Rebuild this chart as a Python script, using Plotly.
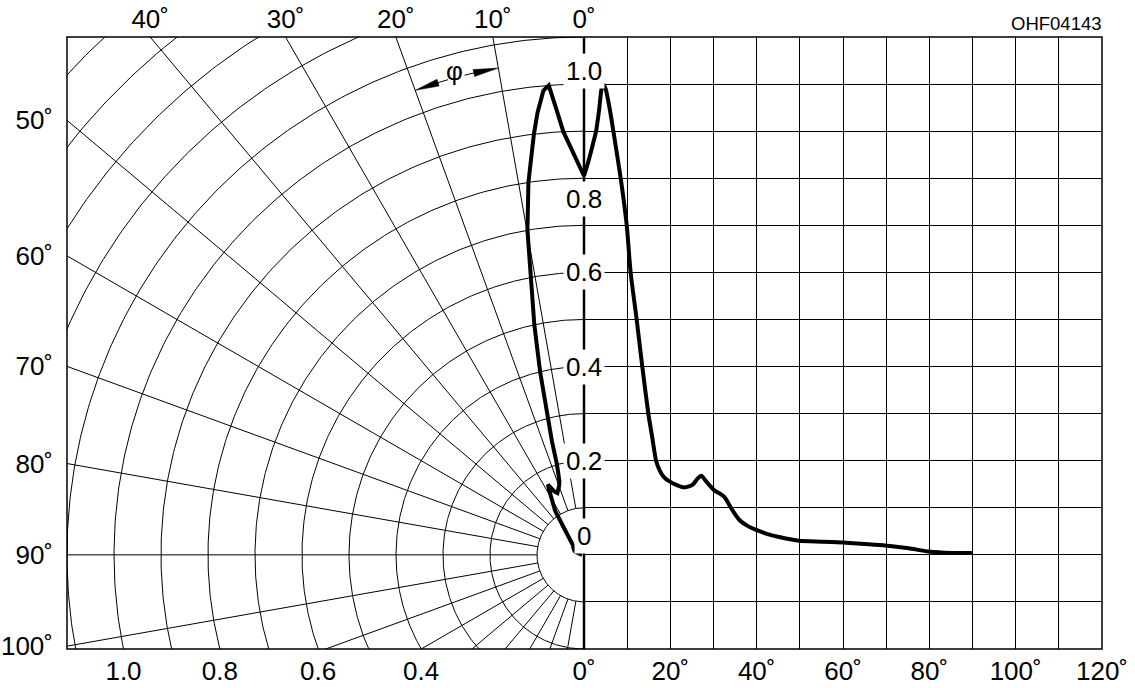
import numpy as np
import plotly.graph_objects as go

# ---- data ----
angle_deg = [0, 1, 2, 2.8, 3.5, 4.3, 5, 6, 6.8, 8.5, 9.9, 10.8, 12.2, 13.5, 14.9, 15.8,
             16.7, 17.5, 18.5, 19.8, 21.5, 23.3, 25.2, 26.3, 27.2, 28.3, 30.2, 31.5,
             32.5, 33.3, 34.1, 36, 38, 39.9, 42.5, 45.2, 49.8, 55, 59.8, 65, 69.8,
             75.2, 79.8, 85.2, 90]
intensity = [0.805, 0.835, 0.87, 0.9, 0.945, 1.0, 0.99, 0.945, 0.9, 0.8, 0.7, 0.6, 0.5,
             0.4, 0.3, 0.25, 0.2, 0.18, 0.165, 0.156, 0.148, 0.143, 0.149, 0.162, 0.168,
             0.156, 0.137, 0.13, 0.123, 0.112, 0.099, 0.074, 0.061, 0.053, 0.044, 0.038,
             0.030, 0.028, 0.026, 0.023, 0.020, 0.014, 0.007, 0.004, 0.004]

circle_levels = [round(0.1 * k, 1) for k in range(1, 16)]
radial_angles = list(range(10, 180, 10))
top_angles = [40, 30, 20, 10, 0]
side_angles = [50, 60, 70, 80, 90, 100]
bottom_levels = [1.0, 0.8, 0.6, 0.4]
axis_label_values = [1.0, 0.8, 0.6, 0.4, 0.2, 0.0]
axis_label_text = ["1.0", "0.8", "0.6", "0.4", "0.2", "0"]
axis_label_shift = [0.028, -0.045, 0, 0, 0, 0.039]
code_label = "OHF04143"
phi_marker = dict(radius=1.05, arrows=[(20.0, 17.2, 16.0), (10.0, 12.9, 14.0)], label_angle=15)

R_EDGE = 1.1
Y_MIN = -0.2
D = 517 / 1035
FONT = "Liberation Sans, Arial, Helvetica, sans-serif"
FS = 26

fig = go.Figure()

# polar circles
cx, cy = [], []
t = np.linspace(0, np.pi, 361)
for r in circle_levels:
    cx += list(-r * np.sin(t)) + [None]
    cy += list(r * np.cos(t)) + [None]
fig.add_trace(go.Scatter(x=cx, y=cy, mode="lines", line=dict(color="black", width=1),
                         hoverinfo="skip", showlegend=False, xaxis="x", yaxis="y"))

# radial lines
rx, ry = [], []
for a in radial_angles:
    ar = np.radians(a)
    rx += [-0.1 * np.sin(ar), -2.5 * np.sin(ar), None]
    ry += [0.1 * np.cos(ar), 2.5 * np.cos(ar), None]
fig.add_trace(go.Scatter(x=rx, y=ry, mode="lines", line=dict(color="black", width=1),
                         hoverinfo="skip", showlegend=False, xaxis="x", yaxis="y"))

# polar curve
phi = np.radians(angle_deg)
I = np.array(intensity)
fig.add_trace(go.Scatter(x=-I * np.sin(phi), y=I * np.cos(phi), mode="lines",
                         line=dict(color="black", width=4),
                         showlegend=False, xaxis="x", yaxis="y"))

# cartesian curve
fig.add_trace(go.Scatter(x=angle_deg, y=intensity, mode="lines",
                         line=dict(color="black", width=4, shape="spline", smoothing=0.6),
                         showlegend=False, xaxis="x2", yaxis="y2"))

# phi marker: shafts + long arrowheads along the arc
R = phi_marker["radius"]
HW = 0.0075
for tip, base, tail in phi_marker["arrows"]:
    tr, br, sr = np.radians(tip), np.radians(base), np.radians(tail)
    fig.add_trace(go.Scatter(x=[-R * np.sin(sr), -R * np.sin(br)],
                             y=[R * np.cos(sr), R * np.cos(br)], mode="lines",
                             line=dict(color="black", width=1), hoverinfo="skip",
                             showlegend=False, xaxis="x", yaxis="y"))
    bx, by = -R * np.sin(br), R * np.cos(br)
    ux, uy = -np.sin(br), np.cos(br)
    fig.add_trace(go.Scatter(x=[-R * np.sin(tr), bx + HW * ux, bx - HW * ux, -R * np.sin(tr)],
                             y=[R * np.cos(tr), by + HW * uy, by - HW * uy, R * np.cos(tr)],
                             mode="lines", fill="toself", fillcolor="black",
                             line=dict(color="black", width=0.5), hoverinfo="skip",
                             showlegend=False, xaxis="x", yaxis="y"))

# keep top angle axis alive
fig.add_trace(go.Scatter(x=[], y=[], xaxis="x3", yaxis="y", showlegend=False, hoverinfo="skip"))

tickfont = dict(family=FONT, size=FS, color="black")
common = dict(zeroline=False, showline=False, ticks="", automargin=False, fixedrange=True)

fig.update_layout(
    width=1135, height=688,
    margin=dict(l=67, r=33, t=37, b=39),
    paper_bgcolor="white", plot_bgcolor="white",
    font=dict(family=FONT, color="black"),
    xaxis=dict(domain=[0, D], range=[-R_EDGE, 0], anchor="y",
               tickmode="array",
               tickvals=[-np.sqrt(r * r - Y_MIN * Y_MIN) for r in bottom_levels],
               ticktext=[f"{r:.1f}" for r in bottom_levels],
               showgrid=False, tickfont=tickfont, ticklabelstandoff=4, **common),
    xaxis3=dict(overlaying="x", side="top", range=[-R_EDGE, 0], anchor="y",
                tickmode="array",
                tickvals=[-R_EDGE * np.tan(np.radians(a)) for a in top_angles],
                ticktext=[f"{a}˚" for a in top_angles],
                showgrid=False, tickfont=tickfont, ticklabelstandoff=3, **common),
    yaxis=dict(domain=[0, 1], range=[Y_MIN, R_EDGE], anchor="x",
               tickmode="array",
               tickvals=[R_EDGE / np.tan(np.radians(a)) for a in side_angles],
               ticktext=[f"{a}˚" for a in side_angles],
               showgrid=False, tickfont=tickfont, ticklabelstandoff=13, **common),
    xaxis2=dict(domain=[D, 1], range=[0, 120], anchor="y2",
                tickmode="linear", tick0=0, dtick=20, ticksuffix="˚",
                showgrid=True, gridcolor="black", gridwidth=1,
                minor=dict(tick0=0, dtick=10, showgrid=True, gridcolor="black", gridwidth=1),
                tickfont=tickfont, ticklabelstandoff=4, **common),
    yaxis2=dict(domain=[0, 1], range=[Y_MIN, R_EDGE], anchor="x2",
                tickmode="linear", tick0=0, dtick=0.1,
                showgrid=True, gridcolor="black", gridwidth=1,
                showticklabels=False, **common),
)

# frame and central axis
fig.add_shape(type="rect", xref="paper", yref="paper", x0=0, x1=1, y0=0, y1=1,
              line=dict(color="black", width=1.5), layer="above")
fig.add_shape(type="line", xref="paper", yref="paper", x0=D, x1=D, y0=0, y1=1,
              line=dict(color="black", width=2.5), layer="above")

# vertical axis labels
for v, txt, s in zip(axis_label_values, axis_label_text, axis_label_shift):
    fig.add_annotation(x=0, y=v + s, xref="x2", yref="y2", text=txt, showarrow=False,
                       bgcolor="white", borderpad=2, xanchor="center", yanchor="middle",
                       font=dict(family=FONT, size=FS, color="black"))

pm = np.radians(phi_marker["label_angle"])
fig.add_annotation(x=-1.064 * np.sin(pm), y=1.064 * np.cos(pm), xref="x", yref="y",
                   text="φ", showarrow=False, font=dict(family=FONT, size=FS, color="black"))

fig.add_annotation(x=1 + 2 / 1035, y=1 + 14 / 612, xref="paper", yref="paper", text=code_label,
                   showarrow=False, xanchor="right", yanchor="middle",
                   font=dict(family=FONT, size=18.5, color="black"))

# remove the browser's default 8px body margin so the figure fills the window exactly
fig.write_html("out.html", config={"displayModeBar": False},
               post_script="document.body.style.margin='0px';document.body.style.overflow='hidden';")
